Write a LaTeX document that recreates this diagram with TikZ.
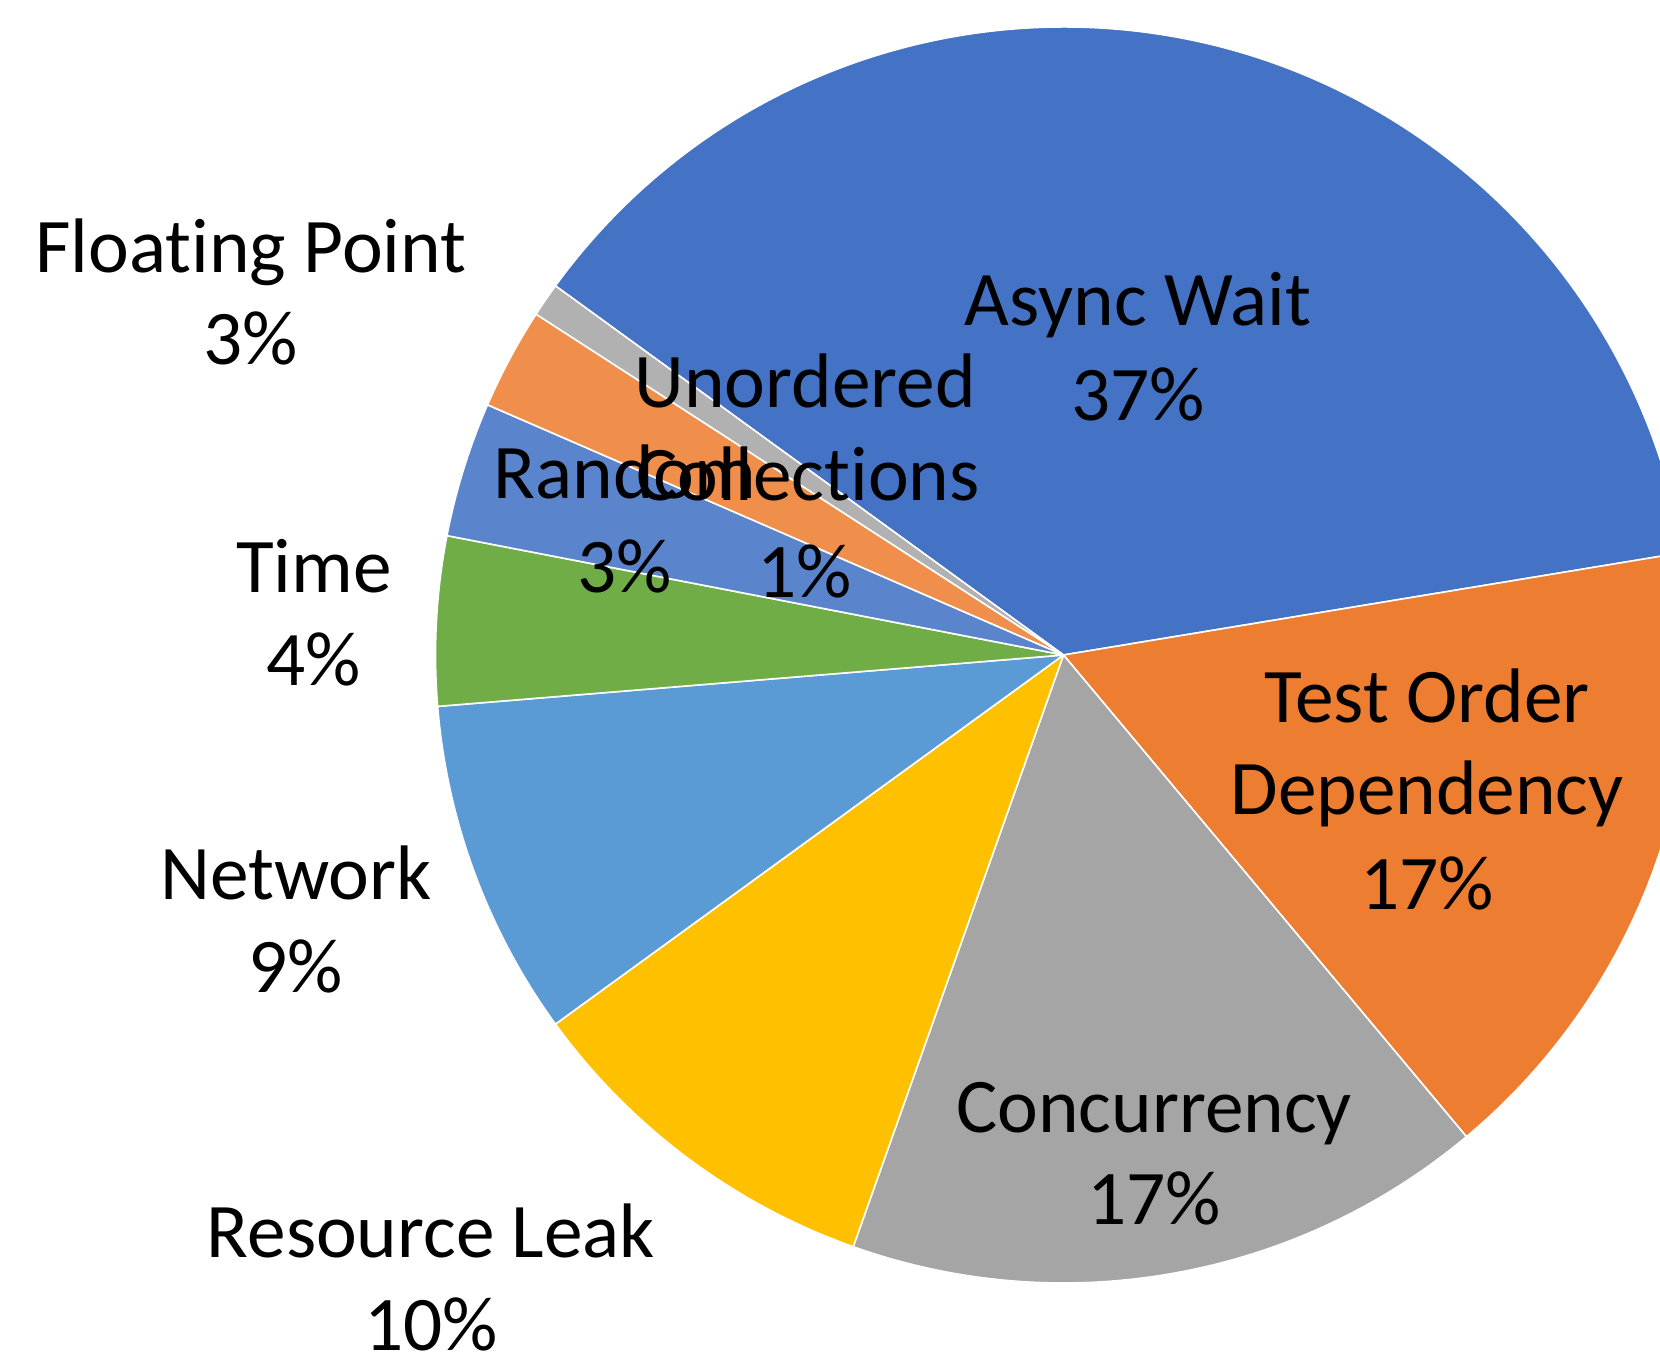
\documentclass[tikz,border=0pt]{standalone}
\usepackage{fontspec}
\setmainfont{Carlito}[Ligatures=CommonOff]

% slice colours
\definecolor{cAsync}{HTML}{4472C4}
\definecolor{cOrder}{HTML}{ED7D31}
\definecolor{cConc}{HTML}{A5A5A5}
\definecolor{cLeak}{HTML}{FFC000}
\definecolor{cNet}{HTML}{5B9BD5}
\definecolor{cTime}{HTML}{70AD47}
\definecolor{cRand}{HTML}{5A84CB}
\definecolor{cFloat}{HTML}{F08F4B}
\definecolor{cUnord}{HTML}{B1B1B1}

\begin{document}
\begin{tikzpicture}[x=1pt,y=1pt,
  slice/.style={draw=white, line width=1.6pt, line join=round},
  lbl/.style={anchor=base, inner sep=0pt, text=black,
              font=\fontsize{77.3}{94}\selectfont}]
\useasboundingbox (0,0) rectangle (1660,1355);
\clip (0,0) rectangle (1660,1355);

\coordinate (c) at (1063.5,700);
\def\R{628}

% slices, clockwise from the upper left
\filldraw[fill=cAsync, slice] (c) -- ++(144:\R) arc[start angle=144, end angle=9.391, radius=\R] -- cycle;
\filldraw[fill=cOrder, slice] (c) -- ++(9.391:\R) arc[start angle=9.391, end angle=-50.087, radius=\R] -- cycle;
\filldraw[fill=cConc, slice] (c) -- ++(-50.087:\R) arc[start angle=-50.087, end angle=-109.565, radius=\R] -- cycle;
\filldraw[fill=cLeak, slice] (c) -- ++(-109.565:\R) arc[start angle=-109.565, end angle=-144, radius=\R] -- cycle;
\filldraw[fill=cNet, slice] (c) -- ++(-144:\R) arc[start angle=-144, end angle=-175.304, radius=\R] -- cycle;
\filldraw[fill=cTime, slice] (c) -- ++(-175.304:\R) arc[start angle=-175.304, end angle=-190.957, radius=\R] -- cycle;
\filldraw[fill=cRand, slice] (c) -- ++(-190.957:\R) arc[start angle=-190.957, end angle=-203.478, radius=\R] -- cycle;
\filldraw[fill=cFloat, slice] (c) -- ++(-203.478:\R) arc[start angle=-203.478, end angle=-212.870, radius=\R] -- cycle;
\filldraw[fill=cUnord, slice] (c) -- ++(-212.870:\R) arc[start angle=-212.870, end angle=-216, radius=\R] -- cycle;

% data labels (baselines)
\node[lbl] (fpA) at (251,1082) {Floating Point};
\node[lbl] (fpB) at (251,990) {3\%};

\node[lbl] (awA) at (1138,1029) {Async Wait};
\node[lbl] (awB) at (1138,934) {37\%};

\node[lbl] (rnA) at (625,856) {Random};
\node[lbl] (rnB) at (625,762) {3\%};

\node[lbl] (ucA) at (805,947) {Unordered};
\node[lbl] (ucB) at (808,854) {Collections};
\node[lbl] (ucC) at (805,757) {1\%};

\node[lbl] (tmA) at (314,762) {Time};
\node[lbl] (tmB) at (314,669) {4\%};

\node[lbl] (toA) at (1427,632) {Test Order};
\node[lbl] (toB) at (1427,540) {Dependency};
\node[lbl] (toC) at (1427,445) {17\%};

\node[lbl] (nwA) at (296,455) {Network};
\node[lbl] (nwB) at (296,362) {9\%};

\node[lbl] (ccA) at (1154,222) {Concurrency};
\node[lbl] (ccB) at (1154,130) {17\%};

\node[lbl] (rlA) at (431,97) {Resource Leak};
\node[lbl] (rlB) at (431,5) {10\%};
\end{tikzpicture}
\end{document}
